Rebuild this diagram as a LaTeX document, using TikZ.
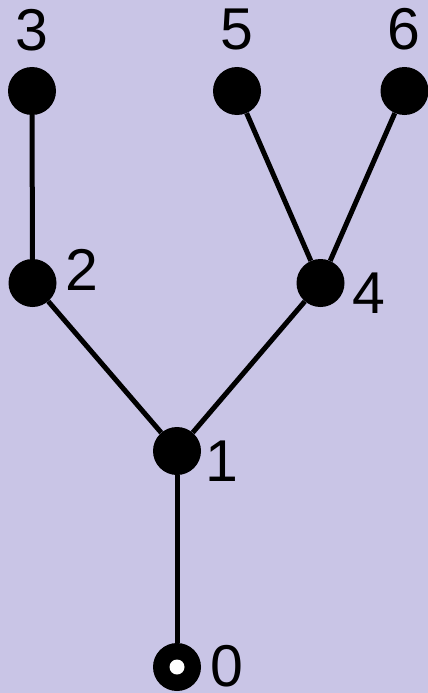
\documentclass[tikz,border=0pt]{standalone}
\usepackage{fontspec}
\setmainfont{Liberation Sans}
\definecolor{bgLavender}{RGB}{201,197,230}

\begin{document}
\begin{tikzpicture}[x=1pt, y=-1pt,
    vertex/.style={circle, fill=black, inner sep=0pt, minimum size=48pt},
    numLabel/.style={inner sep=0pt, font=\fontsize{59}{60}\selectfont},
    edge/.style={line width=5pt, black}]
  \useasboundingbox (0,0) rectangle (428,693);
  \fill[bgLavender] (0,0) rectangle (428,693);
  % vertices
  \node[vertex] (v0) at (177,667) {};
  \fill[white] (v0.center) circle (7.5pt);
  \node[vertex] (v1) at (177,451) {};
  \node[vertex] (v2) at (32.5,283) {};
  \node[vertex] (v3) at (32,91) {};
  \node[vertex] (v4) at (320.5,283) {};
  \node[vertex] (v5) at (237,91) {};
  \node[vertex] (v6) at (404.5,91) {};
  % edges
  \draw[edge] (v0) -- (v1);
  \draw[edge] (v1) -- (v2);
  \draw[edge] (v1) -- (v4);
  \draw[edge] (v2) -- (v3);
  \draw[edge] (v4) -- (v5);
  \draw[edge] (v4) -- (v6);
  % labels
  \node[numLabel] (l0) at (227,666) {0};
  \node[numLabel] (l1) at (222,461) {1};
  \node[numLabel] (l2) at (82,270) {2};
  \node[numLabel] (l3) at (32,30) {3};
  \node[numLabel] (l4) at (368.5,293.5) {4};
  \node[numLabel] (l5) at (236.5,29) {5};
  \node[numLabel] (l6) at (404,29) {6};
\end{tikzpicture}
\end{document}
